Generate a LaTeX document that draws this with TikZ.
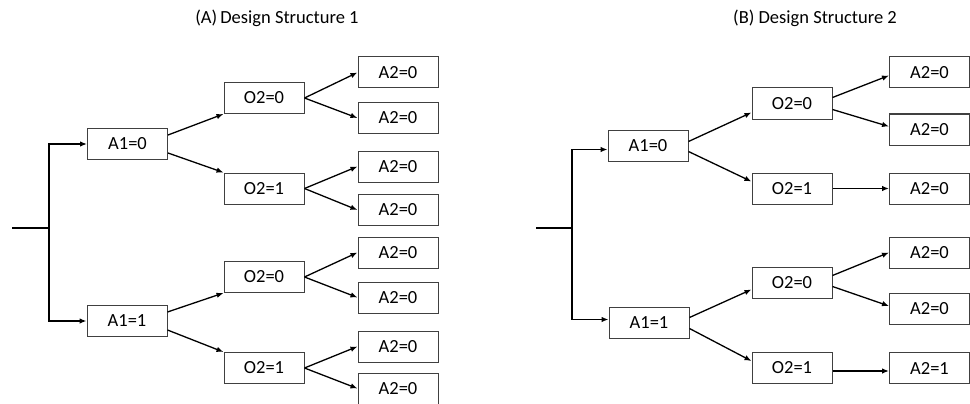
\documentclass[tikz,border=0pt]{standalone}
\usepackage{fontspec}
\setmainfont{Carlito}
\usetikzlibrary{arrows.meta}
\tikzset{
  box/.style={draw=black!75, line width=1pt, minimum width=80pt, minimum height=31pt, inner sep=0pt, font=\fontsize{18.5}{21}\selectfont},
  ttl/.style={font=\fontsize{18.5}{21}\selectfont, inner sep=0pt},
  arr/.style={line width=1.3pt, -{Latex[length=7pt,width=5.5pt]}},
  ln/.style={line width=1.3pt}
}
\begin{document}
\begin{tikzpicture}[x=1pt,y=-1pt]
\useasboundingbox (0,0) rectangle (970,404);
% ---------- (A) ----------
\node[ttl] (tA) at (277,18) {(A)\,Design Structure 1};
\node[box] (a10) at (127.5,144) {A1=0};
\node[box] (a11) at (127,321) {A1=1};
\node[box] (a20) at (264,98) {O2=0};
\node[box] (a21) at (264,188.5) {O2=1};
\node[box] (a22) at (264,277) {O2=0};
\node[box] (a23) at (264,368) {O2=1};
\node[box] (l1) at (398,72.5) {A2=0};
\node[box] (l2) at (398,118) {A2=0};
\node[box] (l3) at (398,166.5) {A2=0};
\node[box] (l4) at (398,210) {A2=0};
\node[box] (l5) at (398,252.5) {A2=0};
\node[box] (l6) at (398,297.5) {A2=0};
\node[box] (l7) at (398,346.5) {A2=0};
\node[box] (l8) at (398,388.5) {A2=0};
\coordinate (ra0) at (12,228);
\coordinate (ra1) at (49,228);
\draw[ln] (ra0) -- (ra1);
\draw[arr] (ra1) |- (a10.west);
\draw[arr] (ra1) |- (a11.west);
\draw[arr] ([yshift=9pt]a10.east) -- (a20.south west);
\draw[arr] ([yshift=-9pt]a10.east) -- (a21.north west);
\draw[arr] ([yshift=9pt]a11.east) -- (a22.south west);
\draw[arr] ([yshift=-9pt]a11.east) -- (a23.north west);
\draw[arr] (a20.east) -- (l1.west);
\draw[arr] (a20.east) -- (l2.west);
\draw[arr] (a21.east) -- (l3.west);
\draw[arr] (a21.east) -- (l4.west);
\draw[arr] (a22.east) -- (l5.west);
\draw[arr] (a22.east) -- (l6.west);
\draw[arr] (a23.east) -- (l7.west);
\draw[arr] (a23.east) -- (l8.west);
% ---------- (B) ----------
\node[ttl] (tB) at (815,18) {(B) Design Structure 2};
\node[box] (b10) at (648,145.5) {A1=0};
\node[box] (b11) at (649,322.5) {A1=1};
\node[box] (b20) at (792,103.5) {O2=0};
\node[box] (b21) at (792,188.5) {O2=1};
\node[box] (b22) at (792,282.5) {O2=0};
\node[box] (b23) at (792,368) {O2=1};
\node[box] (m1) at (929.5,72.5) {A2=0};
\node[box] (m2) at (929.5,129.5) {A2=0};
\node[box] (m3) at (929.5,188.5) {A2=0};
\node[box] (m4) at (929.5,252.5) {A2=0};
\node[box] (m5) at (929.5,309) {A2=0};
\node[box] (m6) at (929.5,368) {A2=1};
\coordinate (rb0) at (536,228);
\coordinate (rb1) at (572,228);
\draw[ln] (rb0) -- (rb1);
\draw[arr] (rb1) |- ([yshift=-4pt]b10.west);
\draw[arr] (rb1) |- ([yshift=3pt]b11.west);
\draw[arr] ([yshift=4pt]b10.east) -- ([yshift=7pt]b20.south west);
\draw[arr] ([yshift=-6pt]b10.east) -- ([yshift=-9pt]b21.north west);
\draw[arr] ([yshift=5pt]b11.east) -- ([yshift=9pt]b22.south west);
\draw[arr] ([yshift=-6pt]b11.east) -- ([yshift=-9pt]b23.north west);
\draw[arr] ([yshift=6pt]b20.east) -- ([yshift=-3pt]m1.west);
\draw[arr] ([yshift=-6pt]b20.east) -- ([yshift=3pt]m2.west);
\draw[arr] (b21.east) -- (m3.west);
\draw[arr] ([yshift=7pt]b22.east) -- (m4.west);
\draw[arr] ([yshift=-4pt]b22.east) -- ([yshift=3pt]m5.west);
\draw[arr] ([yshift=-3pt]b23.east) -- ([yshift=-3pt]m6.west);
\end{tikzpicture}
\end{document}
